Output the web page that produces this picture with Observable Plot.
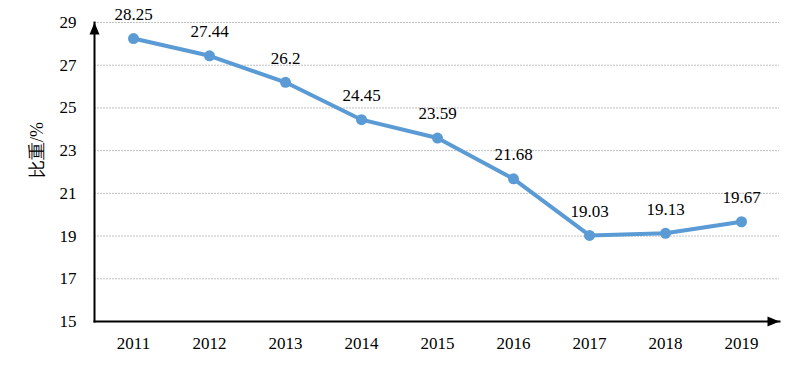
<!DOCTYPE html>
<html><head><meta charset="utf-8">
<script src="https://cdn.jsdelivr.net/npm/d3@7"></script>
<script src="https://cdn.jsdelivr.net/npm/@observablehq/plot@0.6"></script>
<style>
body{margin:0;background:#fff;font-family:"Liberation Serif",serif}
#chart svg, #chart svg text {font-family: "Liberation Serif", serif !important;}
</style>
</head><body><div id="chart"></div>
<script>
const years = ["2011","2012","2013","2014","2015","2016","2017","2018","2019"];
const values = [28.25, 27.44, 26.2, 24.45, 23.59, 21.68, 19.03, 19.13, 19.67];
const yTicks = [15, 17, 19, 21, 23, 25, 27, 29];
const gridTicks = [17, 19, 21, 23, 25, 27, 29];
const yLabel = "比重/%";

const data = years.map((year, i) => ({year, value: values[i]}));
const FONT = "Liberation Serif, serif";

const arrowSymbol = {
  draw(ctx, size) {
    const r = Math.sqrt(size / Math.PI);
    ctx.moveTo(0, 0);
    ctx.lineTo(r, 2.4 * r);
    ctx.lineTo(-r, 2.4 * r);
    ctx.closePath();
  }
};

const chart = Plot.plot({
  width: 802, height: 366,
  marginLeft: 94, marginRight: 23, marginTop: 22, marginBottom: 45,
  style: "font-family: 'Liberation Serif', serif; font-size: 17px; color: #000; background: #fff;",
  x: {type: "point", domain: years, padding: 0.5, label: null},
  y: {domain: [15, 29], label: null},
  marks: [
    Plot.ruleY(gridTicks, {stroke: "#bfbfbf", strokeDasharray: "2,1"}),
    Plot.axisX({tickSize: 0, tickPadding: 15, label: null, fontSize: 17, fontFamily: FONT}),
    Plot.axisY(yTicks, {tickSize: 0, tickPadding: 18, label: null, fontSize: 17, fontFamily: FONT}),
    Plot.frame({anchor: "bottom", stroke: "#000", strokeWidth: 2}),
    Plot.frame({anchor: "left", stroke: "#000", strokeWidth: 2}),
    Plot.dot([0], {frameAnchor: "top-left", symbol: arrowSymbol, r: 5, fill: "#000", stroke: "none"}),
    Plot.dot([0], {frameAnchor: "bottom-right", symbol: arrowSymbol, r: 5, rotate: 90, fill: "#000", stroke: "none"}),
    Plot.text([yLabel], {frameAnchor: "left", rotate: -90, dx: -57, dy: 6, fontSize: 18, fontFamily: FONT}),
    Plot.line(data, {x: "year", y: "value", stroke: "#5B9BD5", strokeWidth: 4}),
    Plot.dot(data, {x: "year", y: "value", r: 5.5, fill: "#5B9BD5", stroke: "none"}),
    Plot.text(data, {x: "year", y: "value", text: d => String(d.value), dy: -24, fontSize: 17, fill: "#000", fontFamily: FONT})
  ]
});
chart.setAttribute("font-family", FONT);
chart.querySelectorAll("g, text").forEach(el => el.style.setProperty("font-family", "'Liberation Serif', serif", "important"));
document.getElementById("chart").appendChild(chart);
</script>
</body></html>
